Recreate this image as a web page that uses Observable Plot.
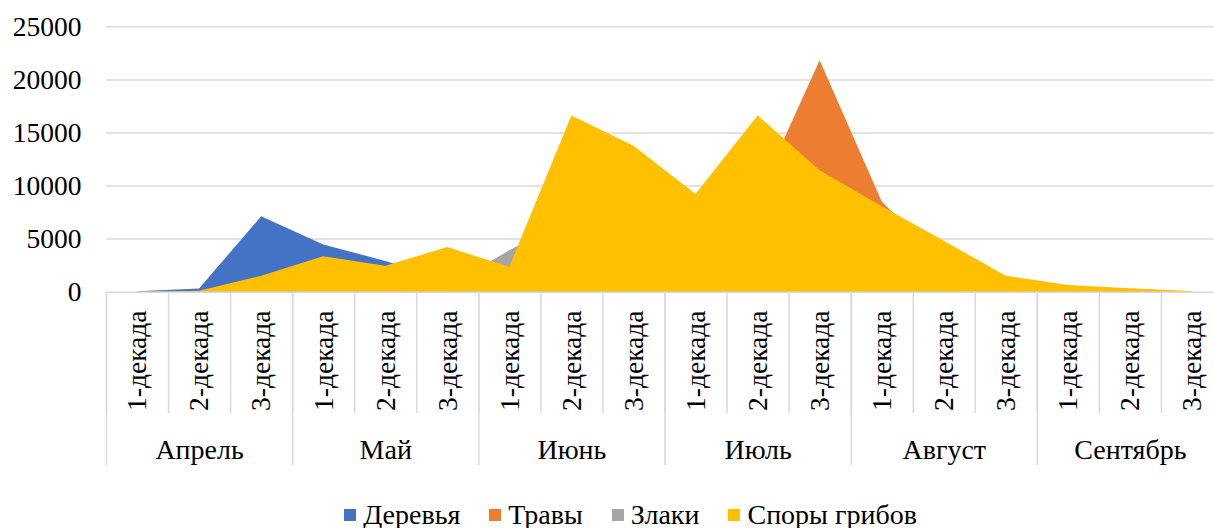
<!DOCTYPE html>
<html><head><meta charset="utf-8">
<script src="https://cdn.jsdelivr.net/npm/d3@7"></script>
<script src="https://cdn.jsdelivr.net/npm/@observablehq/plot@0.6"></script>
<style>
html,body{margin:0;padding:0;background:#fff;overflow:hidden;}
body{font-family:"Liberation Serif","Times New Roman",serif;color:#000;width:1214px;height:528px;}
#legend{display:flex;justify-content:center;align-items:center;height:38px;padding-top:6px;padding-left:47px;font-size:28px;line-height:1;}
.item{display:flex;align-items:center;margin:0 14.5px;}
.sw{width:12px;height:12px;margin-right:7px;}
</style></head><body><div id="chart"></div><div id="legend"></div>
<script>
const months = ["Апрель","Май","Июнь","Июль","Август","Сентябрь"];
const decades = ["1-декада","2-декада","3-декада"];
const seriesNames = ["Деревья","Травы","Злаки","Споры грибов"];
const seriesColors = ["#4472C4","#ED7D31","#A5A5A5","#FFC000"];
const trees   = [50,300,7100,4450,2900,1200,400,150,100,50,0,0,0,0,0,0,0,0];
const grasses = [0,0,0,0,0,0,500,1500,3000,4500,8900,21800,8500,2600,900,300,100,0];
const cereals = [0,0,0,0,0,500,3900,7000,6000,4500,3500,3000,2000,1000,300,100,0,0];
const spores  = [0,100,1500,3350,2450,4200,2350,16600,13750,9200,16600,11450,8050,4800,1500,630,320,70];
const yTicks = [0,5000,10000,15000,20000,25000];

const series = [trees, grasses, cereals, spores];
const nCat = months.length * decades.length;
const rows = vals => vals.map((v,i)=>({x:i+0.5, y:v}));
const boundaries = d3.range(nCat+1);
const monthBounds = d3.range(0, nCat+1, decades.length);
const centers = d3.range(nCat).map(i=>i+0.5);
const monthCenters = months.map((m,i)=>i*decades.length + decades.length/2);
const font = '"Liberation Serif","Times New Roman",serif';

const chart = Plot.plot({
  width:1214, height:490,
  marginLeft:106, marginRight:0, marginTop:26, marginBottom:198,
  style:{fontFamily:font, color:"#000", background:"#fff", overflow:"visible"},
  x:{type:"linear", domain:[0,nCat], range:[106,1223], label:null},
  y:{domain:[0,25000], range:[291.7,26.3], label:null},
  marks:[
    Plot.ruleY(yTicks.slice(1), {x1:0, x2:nCat, stroke:"#d9d9d9", strokeWidth:1.5}),
    ...series.map((s,k)=>Plot.areaY(rows(s), {x:"x", y:"y", fill:seriesColors[k]})),
    Plot.ruleY([0], {x1:0, x2:nCat, stroke:"#d9d9d9", strokeWidth:1.5}),
    Plot.axisY(yTicks, {tickSize:0, tickPadding:25, fontSize:27.5, fontFamily:font, fill:"#000", tickFormat:d=>String(d), label:null}),
    Plot.axisX(boundaries, {tickSize:121, tickFormat:()=>"", stroke:"#d9d9d9", strokeWidth:1.5, label:null}),
    Plot.axisX(monthBounds, {tickSize:173, tickFormat:()=>"", stroke:"#d9d9d9", strokeWidth:1.5, label:null}),
    Plot.axisX(centers, {tickSize:0, tickPadding:18, tickRotate:-90, tickFormat:d=>decades[Math.floor(d)%decades.length], fontSize:27.5, fontFamily:font, fill:"#000", label:null}),
    Plot.axisX(monthCenters, {tickSize:0, tickPadding:147, tickFormat:d=>months[Math.floor(d/decades.length)], fontSize:28, fontFamily:font, fill:"#000", label:null})
  ]
});
document.getElementById("chart").appendChild(chart);

const legend = d3.select("#legend");
seriesNames.forEach((n,k)=>{
  const it = legend.append("div").attr("class","item");
  it.append("div").attr("class","sw").style("background",seriesColors[k]);
  it.append("span").text(n);
});
</script></body></html>
